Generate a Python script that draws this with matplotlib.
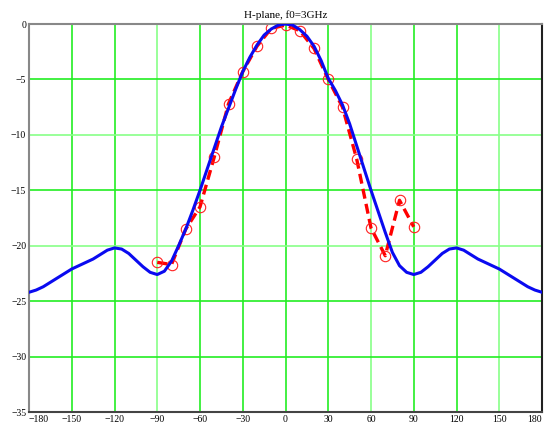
import matplotlib

matplotlib.use("agg")
from matplotlib import pyplot as plt

# simulated pattern (blue), read every 5 degrees
sim_deg = list(range(-180, 181, 5))
sim_db = [
    -24.2, -24.0, -23.7, -23.3, -22.9, -22.5, -22.1, -21.8, -21.5, -21.2,
    -20.8, -20.4, -20.2, -20.3, -20.7, -21.3, -21.9, -22.4, -22.6, -22.3,
    -21.4, -20.0, -18.5, -16.8, -15.0, -13.1, -11.2, -9.3, -7.6, -5.9,
    -4.3, -3.0, -1.9, -1.0, -0.45, -0.1, 0.0, -0.1, -0.5, -1.1,
    -2.0, -3.3, -4.9, -6.0, -7.3, -9.0, -11.0, -13.0, -15.0, -16.9,
    -18.8, -20.6, -21.8, -22.4, -22.6, -22.4, -21.9, -21.3, -20.7, -20.3,
    -20.2, -20.4, -20.8, -21.2, -21.5, -21.8, -22.1, -22.5, -22.9, -23.3,
    -23.7, -24.0, -24.2,
]

# measured points (red)
meas_deg = [-90, -80, -70, -60, -50, -40, -30, -20, -10, 0,
            10, 20, 30, 40, 50, 60, 70, 80, 90]
meas_db = [-21.5, -21.7, -18.5, -16.5, -12.0, -7.2, -4.3, -2.0, -0.4, -0.1,
           -0.6, -2.2, -5.0, -7.5, -12.2, -18.4, -20.9, -15.9, -18.3]

xticks = list(range(-180, 181, 30))
yticks = list(range(-35, 1, 5))

fig = plt.figure(figsize=(5.48, 4.24), dpi=100)
ax = fig.add_axes([29 / 548, 12 / 424, 513 / 548, 388 / 424])

bright = "#22ee22"
light = "#88ff88"
xcol = {-150: bright, -120: bright, -90: light, -60: bright, -30: bright, 0: bright,
        30: bright, 60: light, 90: bright, 120: bright, 150: light}
ycol = {-5: bright, -10: light, -15: bright, -20: light, -25: bright, -30: bright}
for v, c in xcol.items():
    ax.axvline(v, color=c, lw=1.2, zorder=1)
for v, c in ycol.items():
    ax.axhline(v, color=c, lw=1.2, zorder=1)

ax.plot(meas_deg, meas_db, color="red", lw=2.4, ls=(0, (3, 1.6)), zorder=2)
ax.plot(meas_deg, meas_db, ls="none", marker="o", ms=7.5, mfc="none", mec="#ff2020",
        mew=0.8, zorder=2)
ax.plot(sim_deg, sim_db, color="#0a0af0", lw=2.2, zorder=3)

ax.set_xlim(-180, 180)
ax.set_ylim(-35, 0)
ax.set_xticks(xticks)
ax.set_yticks(yticks)
ax.set_xticklabels([str(t).replace("-", "\u2212") for t in xticks])
ax.set_yticklabels([str(t).replace("-", "\u2212") for t in yticks])
ax.tick_params(length=0, labelsize=7, pad=2)
for lab in ax.get_xticklabels() + ax.get_yticklabels():
    lab.set_family("Liberation Serif")
# first and last x labels sit inside the frame, as in the reference
ax.get_xticklabels()[0].set_horizontalalignment("left")
ax.get_xticklabels()[-1].set_horizontalalignment("right")

ax.spines["left"].set_color("#888888")
ax.spines["top"].set_color("#888888")
ax.spines["right"].set_color("#202020")
ax.spines["bottom"].set_color("#444444")
for s in ax.spines.values():
    s.set_linewidth(1.5)

ax.set_title("H-plane, f0=3GHz", fontsize=8, family="Liberation Serif", pad=4)

fig.savefig("out.png", dpi=100)
